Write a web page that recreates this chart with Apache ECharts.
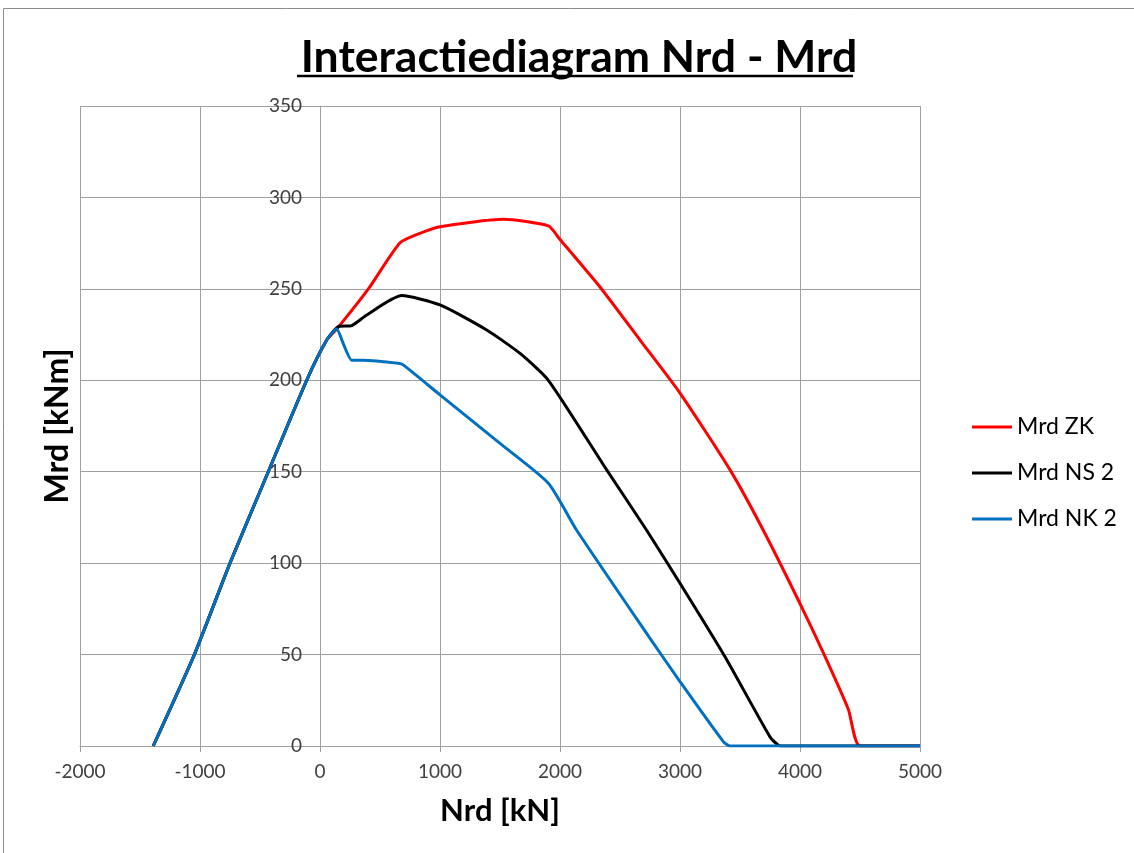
<!DOCTYPE html>
<html>
<head>
<meta charset="utf-8">
<script src="https://cdn.jsdelivr.net/npm/echarts@6/dist/echarts.min.js"></script>
<style>
    html, body { margin: 0; padding: 0; background: #ffffff; }
    #chart { width: 1134px; height: 853px; }
</style>
</head>
<body>
<div id="chart"></div>
<script>
// ================* INTERACTIEDIAGRAM *

// Nrd [kN] / Mrd [kNm] points
let zkN = [-1390, -1047, -750, -431, -111, 56, 139, 403, 667, 833, 1000, 1528, 1903, 2000, 2333, 2667, 3000, 3417, 3694, 4014, 4208, 4403, 4500, 5000];
let zkM = [0, 50, 100, 150, 200, 222, 228, 250, 275.2, 280.4, 284, 288, 284.4, 277, 251, 222, 193, 151, 118, 76, 49, 20, 0, 0];

let nsN = [-1390, -1047, -750, -431, -111, 56, 153, 264, 389, 681, 1000, 1389, 1667, 1903, 2389, 2722, 3000, 3375, 3750, 3819, 3847, 5000];
let nsM = [0, 50, 100, 150, 200, 222, 229.3, 229.9, 235.7, 246.3, 241.2, 227.5, 214.7, 200, 151, 118, 89, 48.8, 5, 0.5, 0, 0];

let nkN = [-1390, -1047, -750, -431, -111, 56, 139, 194, 264, 361, 653, 694, 1000, 1500, 1903, 2139, 2750, 3000, 3361, 3417, 5000];
let nkM = [0, 50, 100, 150, 200, 222, 228, 220, 211, 211, 209.3, 208.4, 192, 165.5, 143.7, 118, 58.9, 35.2, 2.4, 0, 0];

let seriesNames = ['Mrd ZK', 'Mrd NS 2', 'Mrd NK 2'];
let seriesColors = ['#ff0000', '#000000', '#0070c0'];

function pairs(xs, ys) {
    let out = [];
    for (let i = 0; i < xs.length; i++) {
        out.push([xs[i], ys[i]]);
    }
    return out;
}

function lineSeries(name, color, data) {
    return {
        name: name,
        type: 'line',
        data: data,
        symbol: 'none',
        smooth: 0.2,
        lineStyle: {
            color: color,
            width: 3
        },
        itemStyle: {
            color: color
        }
    };
}

var gridColor = '#a0a0a0';
var labelFont = 'Lato, "Open Sans", sans-serif';

var chart = echarts.init(document.getElementById('chart'));
var option = {
    animation: false,
    title: {
        text: 'Interactiediagram Nrd - Mrd',
        left: 574,
        top: 30,
        textAlign: 'center',
        textStyle: {
            fontFamily: labelFont,
            fontWeight: 'bold',
            fontSize: 44.5,
            color: '#000000'
        }
    },
    legend: {
        data: seriesNames,
        orient: 'vertical',
        left: 972,
        top: 414,
        padding: 0,
        icon: 'rect',
        itemWidth: 40,
        itemHeight: 3,
        itemGap: 20,
        textStyle: {
            fontFamily: labelFont,
            fontSize: 23,
            lineHeight: 26,
            color: '#000000'
        }
    },
    grid: {
        left: 80,
        right: 214,
        top: 106,
        bottom: 107,
        outerBoundsMode: 'none'
    },
    xAxis: {
        type: 'value',
        min: -2000,
        max: 5000,
        interval: 1000,
        name: 'Nrd [kN]',
        nameLocation: 'middle',
        nameGap: 49,
        nameTextStyle: {
            fontFamily: labelFont,
            fontWeight: 'bold',
            fontSize: 31,
            color: '#000000'
        },
        axisLine: {
            lineStyle: { color: gridColor, width: 1 }
        },
        axisTick: {
            show: true,
            length: 6,
            lineStyle: { color: gridColor }
        },
        axisLabel: {
            margin: 16,
            fontFamily: labelFont,
            fontSize: 19,
            color: '#404040',
            formatter: function (val) {
                return String(val);
            }
        },
        splitLine: {
            show: true,
            lineStyle: { color: gridColor, width: 1 }
        }
    },
    yAxis: {
        type: 'value',
        min: 0,
        max: 350,
        interval: 50,
        // value axis sits on Nrd = 0 (240 px right of the -2000 edge)
        offset: -240,
        name: 'Mrd [kNm]',
        nameLocation: 'middle',
        nameGap: 246,
        nameTextStyle: {
            fontFamily: labelFont,
            fontWeight: 'bold',
            fontSize: 32,
            color: '#000000'
        },
        axisLine: {
            show: true,
            onZero: false,
            lineStyle: { color: gridColor, width: 1 }
        },
        axisTick: { show: false },
        axisLabel: {
            margin: 18,
            fontFamily: labelFont,
            fontSize: 19,
            color: '#404040',
            formatter: function (val) {
                return String(val);
            }
        },
        splitLine: {
            show: true,
            lineStyle: { color: gridColor, width: 1 }
        }
    },
    graphic: [{
        type: 'rect',
        z: -1,
        shape: { x: 3.5, y: 8.5, width: 1200, height: 1000 },
        style: { fill: 'none', stroke: '#8c8c8c', lineWidth: 1 }
    }, {
        // title underline
        type: 'line',
        shape: { x1: 297, y1: 76, x2: 853, y2: 76 },
        style: { stroke: '#000000', lineWidth: 2.5 }
    }],
    series: [
        lineSeries(seriesNames[0], seriesColors[0], pairs(zkN, zkM)),
        lineSeries(seriesNames[1], seriesColors[1], pairs(nsN, nsM)),
        lineSeries(seriesNames[2], seriesColors[2], pairs(nkN, nkM))
    ]
};
chart.setOption(option);
</script>
</body>
</html>
